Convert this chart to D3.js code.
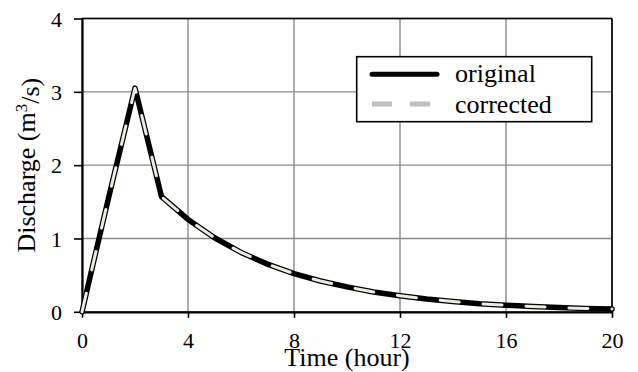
<!DOCTYPE html>
<html>
<head>
<meta charset="utf-8">
<script src="https://cdn.jsdelivr.net/npm/d3@7/dist/d3.min.js"></script>
<style>
html,body{margin:0;padding:0;background:#fff;}
svg{display:block;}
svg text{font-family:'Liberation Serif',Tinos,'DejaVu Serif',serif !important;fill:#000;}
</style>
</head>
<body>
<svg id="chart" width="638" height="372"></svg>
<script>
// Data (hours, m3/s)
const hours     = [0, 0.5, 1, 1.5, 2, 3, 4, 5, 6, 7, 8, 9, 10, 11, 12, 13, 14, 15, 16, 17, 18, 19, 20];
const original  = [0, 0.78, 1.55, 2.3, 3.05, 1.57, 1.26, 1.01, 0.81, 0.65, 0.52, 0.42, 0.34, 0.27, 0.22, 0.175, 0.14, 0.11, 0.09, 0.072, 0.058, 0.046, 0.037];
const corrected = [0, 0.78, 1.55, 2.3, 3.05, 1.57, 1.26, 1.01, 0.81, 0.65, 0.52, 0.42, 0.34, 0.27, 0.22, 0.175, 0.14, 0.11, 0.09, 0.072, 0.058, 0.046, 0.037];
const xTicks = [0, 4, 8, 12, 16, 20];
const yTicks = [0, 1, 2, 3, 4];
const seriesNames = ["original", "corrected"];
const xTitle = "Time (hour)";

const FONT = "'Liberation Serif', Tinos, 'DejaVu Serif', serif";
const svg = d3.select("#chart");
const L = 82, R = 612, T = 18.5, B = 311.8;
const x = d3.scaleLinear().domain([0, 20]).range([L, R]);
const y = d3.scaleLinear().domain([0, 4]).range([B, T]);

// grid
const grid = svg.append("g");
grid.selectAll("line.vx").data(xTicks).enter().append("line")
  .attr("x1", d => x(d)).attr("x2", d => x(d)).attr("y1", T).attr("y2", B)
  .attr("stroke", "#8a8a8a").attr("stroke-width", 1.4);
grid.selectAll("line.hy").data(yTicks).enter().append("line")
  .attr("x1", L).attr("x2", R).attr("y1", d => y(d)).attr("y2", d => y(d))
  .attr("stroke", "#8a8a8a").attr("stroke-width", 1.4);

// frame top/right
svg.append("line").attr("x1", L).attr("x2", R).attr("y1", T).attr("y2", T).attr("stroke", "#000").attr("stroke-width", 1.6);
svg.append("line").attr("x1", R).attr("x2", R).attr("y1", T).attr("y2", B).attr("stroke", "#000").attr("stroke-width", 1.6);

// axes
const xAxis = svg.append("g").attr("transform", `translate(0,${B})`)
  .call(d3.axisBottom(x).tickValues(xTicks).tickSize(6).tickSizeOuter(0).tickFormat(d3.format("d")));
const yAxis = svg.append("g").attr("transform", `translate(${L},0)`)
  .call(d3.axisLeft(y).tickValues(yTicks).tickSize(8).tickSizeOuter(0).tickFormat(d3.format("d")));
[xAxis, yAxis].forEach(a => {
  a.attr("font-family", FONT).attr("font-size", 22);
  a.select(".domain").attr("stroke", "#000").attr("stroke-width", 2.2);
  a.selectAll(".tick line").attr("stroke", "#000").attr("stroke-width", 1.6);
  a.selectAll(".tick text").attr("font-family", FONT).style("font-size", "22px").attr("fill", "#000");
});
xAxis.selectAll(".tick text").attr("y", 36.5).attr("dy", 0);
yAxis.selectAll(".tick text").attr("x", -20).attr("dy", "0.35em");

// lines
const line = d3.line().x((d, i) => x(hours[i])).y(d => y(d));
svg.append("path").datum(original).attr("d", line)
  .attr("fill", "none").attr("stroke", "#000").attr("stroke-width", 5.5)
  .attr("stroke-linejoin", "round").attr("stroke-linecap", "round");
svg.append("path").datum(corrected).attr("d", line)
  .attr("fill", "none").attr("stroke", "#ecebe1").attr("stroke-width", 3)
  .attr("stroke-dasharray", "19 24").attr("stroke-linejoin", "round").attr("stroke-linecap", "round");

// legend
const lg = svg.append("g");
lg.append("rect").attr("x", 356.7).attr("y", 56.7).attr("width", 235).attr("height", 65)
  .attr("fill", "#fff").attr("stroke", "#000").attr("stroke-width", 1.6);
lg.append("line").attr("x1", 372).attr("x2", 437).attr("y1", 74.3).attr("y2", 74.3)
  .attr("stroke", "#000").attr("stroke-width", 5).attr("stroke-linecap", "round");
lg.append("line").attr("x1", 372).attr("x2", 437).attr("y1", 104).attr("y2", 104)
  .attr("stroke", "#c0c0c0").attr("stroke-width", 5).attr("stroke-dasharray", "20 18");
lg.append("text").attr("x", 455).attr("y", 82).attr("font-family", FONT).style("font-size", "26px").text(seriesNames[0]);
lg.append("text").attr("x", 455).attr("y", 112.5).attr("font-family", FONT).style("font-size", "26px").text(seriesNames[1]);

// titles
svg.append("text").attr("x", (L + R) / 2).attr("y", 366).attr("text-anchor", "middle")
  .attr("font-family", FONT).style("font-size", "26px").text(xTitle);
const yt = svg.append("text").attr("transform", `translate(35,${(T + B) / 2}) rotate(-90)`)
  .attr("text-anchor", "middle").attr("font-family", FONT).style("font-size", "26px");
yt.append("tspan").text("Discharge (m");
yt.append("tspan").attr("dy", "-0.45em").style("font-size", "17px").text("3");
yt.append("tspan").attr("dy", "0.45em").text("/s)");
</script>
</body>
</html>
